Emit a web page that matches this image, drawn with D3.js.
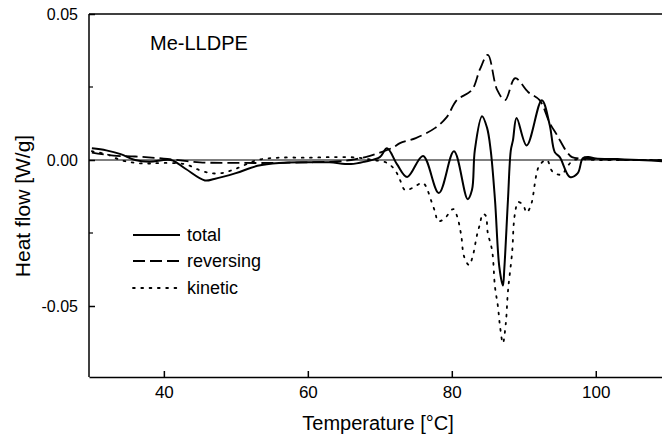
<!DOCTYPE html>
<html>
<head>
<meta charset="utf-8">
<script src="https://cdn.jsdelivr.net/npm/d3@7"></script>
<style>
  body { margin: 0; background: #fff; }
  svg { display: block; font-family: "Liberation Sans", Arial, sans-serif; }
  .axis path, .axis line { stroke: #000; stroke-width: 1.5; }
  .axis text { fill: #000; }
</style>
</head>
<body>
<div id="chart"></div>
<script>
/* DATA */

const totalT = [30, 32, 34, 36, 38, 41, 43, 45.7, 47, 50, 53, 56, 60, 63, 66, 68, 70, 71, 72.4, 73.8, 76, 78.2, 80.3, 82.2, 82.8, 83.2, 84.2, 84.9, 85.4, 86.0, 86.6, 87.1, 87.3, 87.8, 88.2, 88.5, 89, 90.4, 92.5, 93.6, 94.3, 95, 96.4, 97.5, 98.2, 99, 100, 103, 106, 110];
const totalV = [0.004, 0.0033, 0.002, 0.0, -0.0006, 0, -0.003, -0.007, -0.0065, -0.0045, -0.002, -0.001, -0.0008, -0.0008, -0.0014, -0.0005, 0.001, 0.004, -0.0015, -0.0058, 0.0014, -0.0113, 0.003, -0.0134, -0.0103, 0.0034, 0.015, 0.011, 0.0034, -0.0137, -0.0366, -0.043, -0.037, -0.0137, 0.0034, 0.0068, 0.0144, 0.005, 0.0205, 0.012, 0.0027, 0.001, -0.0058, -0.0045, 0.0006, 0.001, 0.0005, 0.0003, 0, -0.0005];

const revT = [30, 33, 36, 40, 45, 50, 55, 60, 64, 66, 68, 70, 72, 72.8, 75, 77.7, 79.3, 80.7, 82.8, 83.9, 85, 86.3, 87.4, 88.8, 90.6, 92.2, 93.6, 94.6, 96, 96.7, 98, 100, 105, 110];
const revV = [0.0025, 0.0015, 0.0012, 0.0005, -0.0008, -0.001, -0.001, -0.0008, -0.0005, 0, 0.001, 0.0025, 0.0045, 0.0058, 0.0075, 0.011, 0.0147, 0.0205, 0.024, 0.031, 0.036, 0.024, 0.0205, 0.028, 0.0233, 0.0205, 0.0127, 0.0086, 0.0027, 0.001, 0.0005, 0.0003, 0, 0];

const kinT = [30, 32, 34, 36, 38, 40, 43, 45, 46.5, 48, 50, 53, 56, 60, 64, 67, 69, 71, 72.1, 72.8, 73.5, 74.6, 76, 77.2, 77.7, 78.1, 79, 80.2, 80.7, 81.3, 81.7, 82.4, 82.9, 83.5, 83.9, 84.3, 84.7, 85, 85.6, 86, 86.4, 86.7, 87.1, 87.5, 87.8, 88.4, 88.6, 88.8, 89.2, 89.9, 90.4, 91, 91.3, 91.5, 91.8, 92.2, 93.2, 94, 95.3, 96, 97, 100, 105, 110];
const kinV = [0.003, 0.002, 0.0, -0.001, -0.0012, -0.001, -0.0015, -0.0035, -0.0045, -0.0045, -0.003, 0.0, 0.0008, 0.0008, 0.001, 0.0008, 0.0, -0.001, -0.0034, -0.0068, -0.0103, -0.0095, -0.0079, -0.0144, -0.018, -0.021, -0.02, -0.0168, -0.019, -0.0257, -0.033, -0.036, -0.033, -0.0257, -0.022, -0.0185, -0.019, -0.025, -0.031, -0.0435, -0.05, -0.057, -0.0627, -0.056, -0.045, -0.031, -0.022, -0.018, -0.0144, -0.0154, -0.018, -0.0154, -0.012, -0.0086, -0.0045, -0.0017, 0.0, -0.004, -0.005, -0.0024, 0, 0, 0, 0];

const xTicks = [40, 60, 80, 100];
const yTicks = [-0.05, 0, 0.05];
const yMinor = [-0.025, 0.025];

const seriesNames = ["total", "reversing", "kinetic"];
const dashes = [null, "12,5", "1.8,6.5"];

/* SET UP */

const w = 662;
const h = 434;
const m = { top: 14, right: 0, bottom: 57, left: 89 };

const svg = d3.select("#chart")
  .append("svg")
  .attr("width", w)
  .attr("height", h);

const x = d3.scaleLinear().domain([29.6, 109.2]).range([m.left, w - m.right]);
const y = d3.scaleLinear().domain([-0.05, 0.05]).range([306, m.top]);
const bottomY = h - m.bottom;

// plain hyphen for negatives, like the original
const fmt = (d) => d3.format(".2f")(d).replace("\u2212", "-");

// clip for the curves
svg.append("clipPath").attr("id", "clip")
  .append("rect")
  .attr("x", m.left).attr("y", m.top)
  .attr("width", w - m.left).attr("height", bottomY - m.top);

// zero line
svg.append("line")
  .attr("x1", m.left).attr("x2", w)
  .attr("y1", y(0)).attr("y2", y(0))
  .attr("stroke", "#000").attr("stroke-width", 1.2);

// top border
svg.append("line")
  .attr("x1", m.left).attr("x2", w)
  .attr("y1", y(0.05)).attr("y2", y(0.05))
  .attr("stroke", "#000").attr("stroke-width", 1.5);

// axes
const xAxis = svg.append("g")
  .attr("class", "axis")
  .attr("transform", `translate(0,${bottomY})`)
  .call(d3.axisBottom(x).tickValues(xTicks).tickSize(-6).tickSizeOuter(0).tickPadding(9));
xAxis.selectAll("text").attr("font-size", 17);

const yAxis = svg.append("g")
  .attr("class", "axis")
  .attr("transform", `translate(${m.left},0)`)
  .call(d3.axisLeft(y).tickValues(yTicks).tickFormat(fmt).tickSize(-6).tickSizeOuter(0).tickPadding(11));
yAxis.select(".domain").attr("d", `M0,${y(0.05)}V${bottomY}`);
yAxis.selectAll("text").attr("font-size", 16);

// minor ticks on the left axis
svg.selectAll(".minor")
  .data(yMinor)
  .join("line")
  .attr("class", "minor")
  .attr("x1", m.left).attr("x2", m.left + 4)
  .attr("y1", (d) => y(d)).attr("y2", (d) => y(d))
  .attr("stroke", "#000").attr("stroke-width", 1.2);

// curves
const line = d3.line()
  .x((d) => x(d[0]))
  .y((d) => y(d[1]))
  .curve(d3.curveCatmullRom.alpha(0.5));

const series = [
  d3.zip(totalT, totalV),
  d3.zip(revT, revV),
  d3.zip(kinT, kinV),
];

svg.append("g")
  .attr("clip-path", "url(#clip)")
  .selectAll("path")
  .data(series)
  .join("path")
  .attr("d", line)
  .attr("fill", "none")
  .attr("stroke", "#000")
  .attr("stroke-width", (d, i) => (i === 0 ? 2 : 1.8))
  .attr("stroke-linecap", (d, i) => (i === 2 ? "round" : "butt"))
  .attr("stroke-dasharray", (d, i) => dashes[i]);

// sample name
svg.append("text")
  .text("Me-LLDPE")
  .attr("x", 150)
  .attr("y", 50)
  .attr("font-size", 20);

// legend
const legend = svg.append("g");
const legY = [235, 261, 288];

legend.selectAll("line")
  .data(seriesNames)
  .join("line")
  .attr("x1", 133).attr("x2", 180)
  .attr("y1", (d, i) => legY[i]).attr("y2", (d, i) => legY[i])
  .attr("stroke", "#000")
  .attr("stroke-width", (d, i) => (i === 0 ? 2 : 1.8))
  .attr("stroke-linecap", (d, i) => (i === 2 ? "round" : "butt"))
  .attr("stroke-dasharray", (d, i) => dashes[i]);

legend.selectAll("text")
  .data(seriesNames)
  .join("text")
  .text((d) => d)
  .attr("x", 187)
  .attr("y", (d, i) => legY[i] + 6)
  .attr("font-size", 18);

// axis titles
svg.append("text")
  .text("Temperature [°C]")
  .attr("x", 378)
  .attr("y", 430)
  .attr("text-anchor", "middle")
  .attr("font-size", 20);

svg.append("text")
  .text("Heat flow [W/g]")
  .attr("transform", "translate(30,206) rotate(-90)")
  .attr("text-anchor", "middle")
  .attr("font-size", 21);
</script>
</body>
</html>
